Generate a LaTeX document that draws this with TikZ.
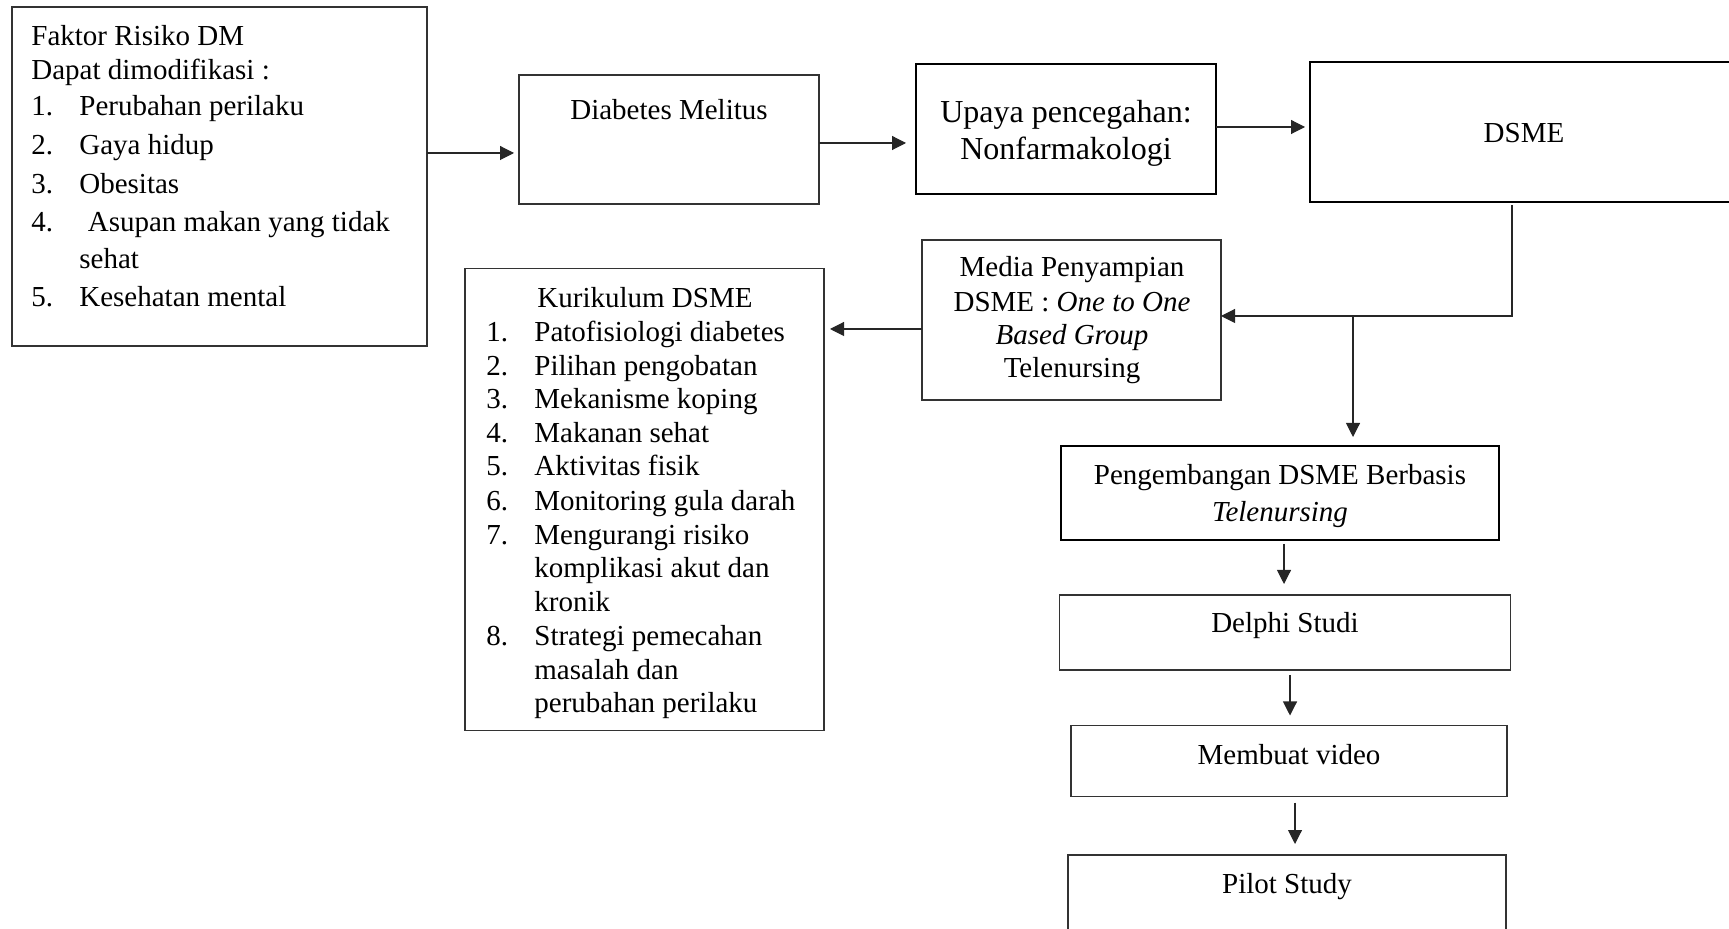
\documentclass[tikz,border=0pt]{standalone}
\usepackage{fontspec}
\setmainfont{Liberation Serif}
\usetikzlibrary{arrows.meta,calc}
\begin{document}
\begin{tikzpicture}[x=0.5pt,y=-0.5pt,
  box/.style={draw=black!80,line width=0.55pt,inner sep=0pt,outer sep=0pt},
  tbox/.style={draw=black,line width=1.3pt,inner sep=0pt,outer sep=0pt},
  txt/.style={inner sep=0pt,font=\fontsize{14.5}{17}\selectfont},
  big/.style={inner sep=0pt,font=\fontsize{16}{19}\selectfont},
  conn/.style={draw=black!85,line width=0.55pt},
  arr/.style={conn,-{Triangle[length=7pt,width=7pt]}}]
\useasboundingbox (0,0) rectangle (1729,929);

% boxes
\node[box,minimum width=207.5pt,minimum height=169.5pt] (fak) at (219.5,176.5) {};
\node[box,minimum width=150pt,minimum height=64.5pt] (dm) at (669,139.5) {};
\node[tbox,minimum width=150pt,minimum height=65pt] (up) at (1066,129) {};
\node[tbox,minimum width=215pt,minimum height=70pt] (dsme) at (1525,132) {};
\node[box,minimum width=149.5pt,minimum height=80pt] (media) at (1071.5,320) {};
\node[box,minimum width=179.5pt,minimum height=231pt] (kur) at (644.5,499.5) {};
\node[tbox,minimum width=219pt,minimum height=47pt] (peng) at (1280,493) {};
\node[box,minimum width=225.5pt,minimum height=37.5pt] (del) at (1285,632.5) {};
\node[box,minimum width=218pt,minimum height=35.5pt] (vid) at (1289,761) {};
\node[box,minimum width=219pt,minimum height=55pt] (pil) at (1287,910) {};

% Faktor text
\node[txt,anchor=base west] (f0) at (31,46) {Faktor Risiko DM};
\node[txt,anchor=base west] (f00) at (31,80) {Dapat dimodifikasi :};
\foreach \n/\t/\y in {1/Perubahan perilaku/116,2/Gaya hidup/155,3/Obesitas/194,5/Kesehatan mental/307}{
  \node[txt,anchor=base west] (fn\n) at (31,\y) {\n.};
  \node[txt,anchor=base west] (ft\n) at (79,\y) {\t};
}
\node[txt,anchor=base west] (fn4) at (31,232) {4.};
\node[txt,anchor=base west] (ft4) at (87.5,232) {Asupan makan yang tidak};
\node[txt,anchor=base west] (ft4b) at (79,269) {sehat};

% top row texts
\node[txt,anchor=base] (dmt) at (669,120) {Diabetes Melitus};
\node[big,anchor=base] (upt1) at (1066,123) {Upaya pencegahan:};
\node[big,anchor=base] (upt2) at (1066,159.5) {Nonfarmakologi};
\node[txt,anchor=base] (dsmet) at (1524,143) {DSME};

% Media
\node[txt,anchor=base] (m1) at (1072,277) {Media Penyampian};
\node[txt,anchor=base] (m2) at (1072,312) {DSME : \textit{One to One}};
\node[txt,anchor=base] (m3) at (1072,345) {\textit{Based Group}};
\node[txt,anchor=base] (m4) at (1072,378) {Telenursing};

% Kurikulum
\node[txt,anchor=base] (kt) at (645,308) {Kurikulum DSME};
\foreach \n/\t/\y in {1/Patofisiologi diabetes/341.5,2/Pilihan pengobatan/375.5,3/Mekanisme koping/409,4/Makanan sehat/442.5,5/Aktivitas fisik/476,6/Monitoring gula darah/511,7/Mengurangi risiko/544.5,8/Strategi pemecahan/646}{
  \node[txt,anchor=base west] (kn\n) at (486,\y) {\n.};
  \node[txt,anchor=base west] (kt\n) at (534,\y) {\t};
}
\node[txt,anchor=base west] (kt7b) at (534,578) {komplikasi akut dan};
\node[txt,anchor=base west] (kt7c) at (534,611.5) {kronik};
\node[txt,anchor=base west] (kt8b) at (534,679.5) {masalah dan};
\node[txt,anchor=base west] (kt8c) at (534,713) {perubahan perilaku};

% right column texts
\node[txt,anchor=base] (pt1) at (1280,485) {Pengembangan DSME Berbasis};
\node[txt,anchor=base] (pt2) at (1280,522) {\textit{Telenursing}};
\node[txt,anchor=base] (delt) at (1285,633) {Delphi Studi};
\node[txt,anchor=base] (vidt) at (1289,764) {Membuat video};
\node[txt,anchor=base] (pilt) at (1287,893) {Pilot Study};

% connectors
\draw[arr] (fak.east |- 0,153) -- ($(dm.west |- 0,153)+(-5,0)$);
\draw[arr] (dm.east |- 0,143) -- ($(up.west |- 0,143)+(-10,0)$);
\draw[arr] (up.east |- 0,127) -- ($(dsme.west |- 0,127)+(-5,0)$);
\draw[arr] (media.west |- 0,329) -- ($(kur.east |- 0,329)+(6,0)$);
\coordinate (corner) at (1512,316);
\coordinate (split) at (1353,316);
\draw[arr] ($(dsme.south -| corner)+(0,3)$) -- (corner) -- (media.east |- corner);
\draw[arr] (split) -- ($(peng.north -| split)+(0,-9)$);
\draw[arr] ($(peng.south -| 1284,0)+(0,4)$) -- ($(del.north -| 1284,0)+(0,-11)$);
\draw[arr] ($(del.south -| 1290,0)+(0,5)$) -- ($(vid.north -| 1290,0)+(0,-10)$);
\draw[arr] ($(vid.south -| 1295,0)+(0,6)$) -- ($(pil.north -| 1295,0)+(0,-11)$);
\end{tikzpicture}
\end{document}
